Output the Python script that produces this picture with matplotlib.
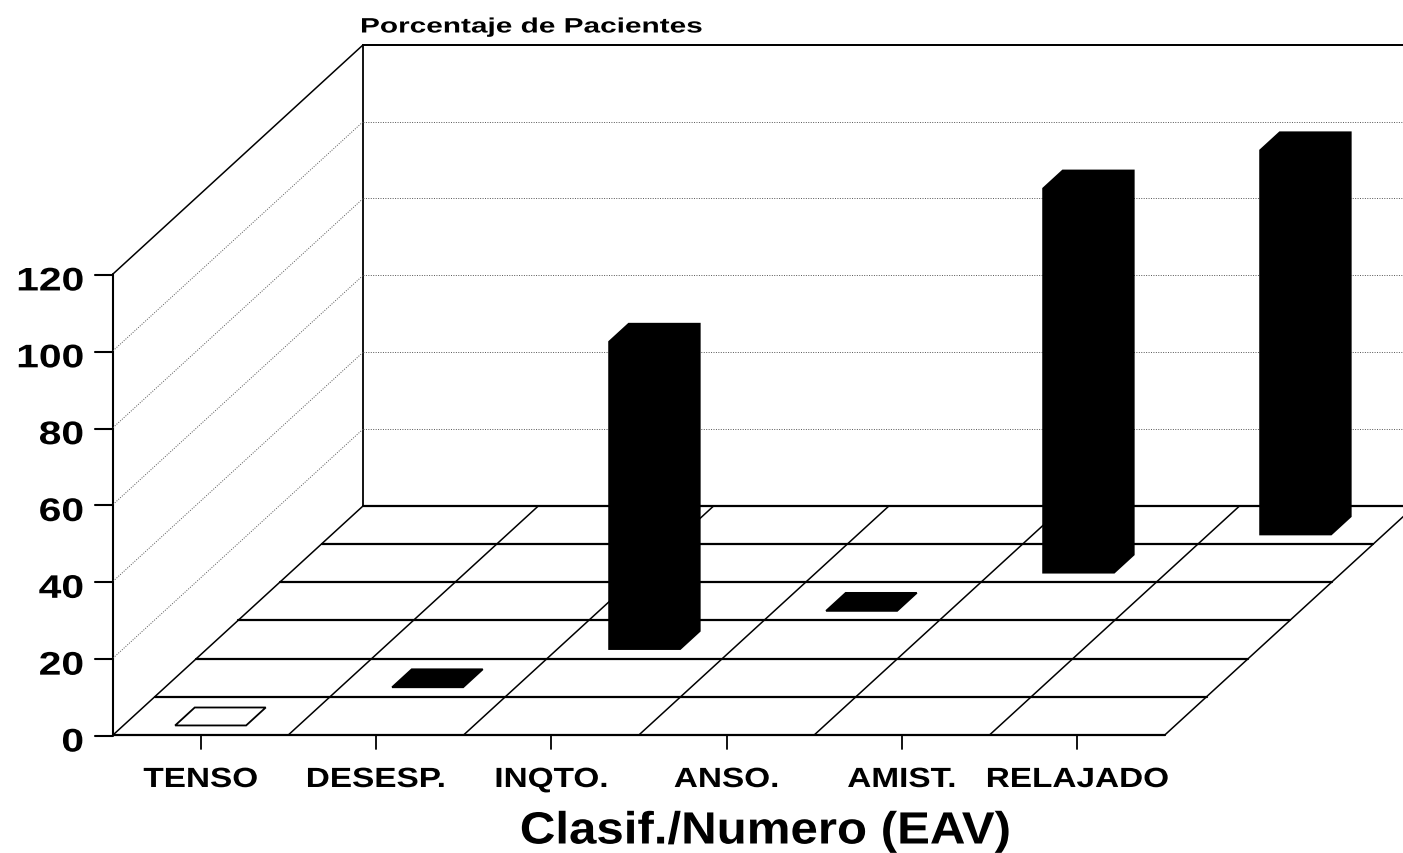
#!/usr/bin/env python3
"""3D style bar chart: Clasif./Numero (EAV), drawn with a hand made oblique projection."""

import matplotlib
matplotlib.use("Agg")
import matplotlib.pyplot as plt
import matplotlib.patheffects as pe
from matplotlib.patches import Polygon
from matplotlib.transforms import Affine2D

CATEGORIES = ["TENSO", "DESESP.", "INQTO.", "ANSO.", "AMIST.", "RELAJADO"]
VALUES = [0, 0, 80, 0, 100, 100]
BAR_FACES = ["white", "black", "black", "black", "black", "black"]
Y_TICKS = [0, 20, 40, 60, 80, 100, 120]

# projection, in image pixels
X0, Y0 = 113, 736
COL_W = 175.3
ROW_H = 38.2
SHEAR = 41.7
UNIT = 3.842
N_ROWS = 6
W, H = 1403, 854


class Wide(pe.AbstractPathEffect):
    """Stretch a text sideways about a fixed x, the original font is an extended one."""

    def __init__(self, cx, sx):
        super().__init__()
        self.cx = cx
        self.sx = sx

    def draw_path(self, renderer, gc, tpath, affine, rgbFace=None):
        stretch = Affine2D().translate(-self.cx, 0).scale(self.sx, 1).translate(self.cx, 0)
        renderer.draw_path(gc, tpath, affine + stretch, rgbFace)


def project(col, row, val=0):
    """category position, depth position, value -> pixel position"""
    return (X0 + col * COL_W + row * SHEAR, Y0 - row * ROW_H - val * UNIT)


fig = plt.figure(figsize=(W / 100, H / 100), dpi=100, facecolor="white")
ax = fig.add_axes([0, 0, 1, 1])
ax.set_xlim(0, W)
ax.set_ylim(H, 0)
ax.axis("off")


def line(a, b, lw=1.5, **kw):
    ax.plot([a[0], b[0]], [a[1], b[1]], color=kw.pop("color", "black"), lw=lw,
            solid_capstyle="round", **kw)


def label(x, y, s, size, sx, ha="center"):
    ax.text(x, y, s, ha=ha, va="center", fontsize=size, fontweight="bold",
            family="Liberation Sans", path_effects=[Wide(x, sx)])


n = len(CATEGORIES)
top = Y_TICKS[-1]

# walls
line(project(0, 0), project(0, 0, top), lw=1.5)
line(project(0, 0, top), project(0, N_ROWS, top), lw=1.1)
line(project(0, N_ROWS), project(0, N_ROWS, top), lw=1.3)
line(project(0, N_ROWS, top), project(n, N_ROWS, top), lw=1.3)

# dotted grid on the walls
for t in Y_TICKS[1:-1] + [top]:
    if t != top:
        line(project(0, 0, t), project(0, N_ROWS, t), lw=0.7, ls=(0, (1, 1.5)), color="#555555")
    line(project(0, N_ROWS, t), project(n, N_ROWS, t), lw=0.7 if t != top else 1.3,
         ls=(0, (1, 1.5)) if t != top else "-", color="#555555" if t != top else "black")

# floor
for r in range(N_ROWS + 1):
    line(project(0, r), project(n, r), lw=1.6)
for c in range(n + 1):
    line(project(c, 0), project(c, N_ROWS), lw=1.1)

# bars, each one sits in its own depth row
for i, (val, face) in enumerate(zip(VALUES, BAR_FACES)):
    c0, c1 = i + 0.295, i + 0.7
    r0, r1 = i + 0.25, i + 0.72
    if val == 0:
        pts = [project(c0, r0), project(c1, r0), project(c1, r1), project(c0, r1)]
    else:
        pts = [project(c0, r0), project(c1, r0), project(c1, r1), project(c1, r1, val),
               project(c0, r1, val), project(c0, r0, val)]
    ax.add_patch(Polygon(pts, closed=True, facecolor=face, edgecolor="black", lw=1.3, zorder=5))

# axes text
for i, name in enumerate(CATEGORIES):
    x, y = project(i + 0.5, 0)
    line((x, y), (x, y + 14), lw=1.3)
    label(x, 781, name, 20, 1.2)

for t in Y_TICKS:
    x, y = project(0, 0, t)
    line((x - 18, y + 1), (x, y + 1), lw=1.5)
    label(84, y + 8, str(t), 23.5, 1.25, ha="right")

label(360, 28, "Porcentaje de Pacientes", 15, 1.43, ha="left")
label(765, 833, "Clasif./Numero (EAV)", 32.5, 1.09)

fig.savefig("out.png", dpi=100, facecolor="white")
